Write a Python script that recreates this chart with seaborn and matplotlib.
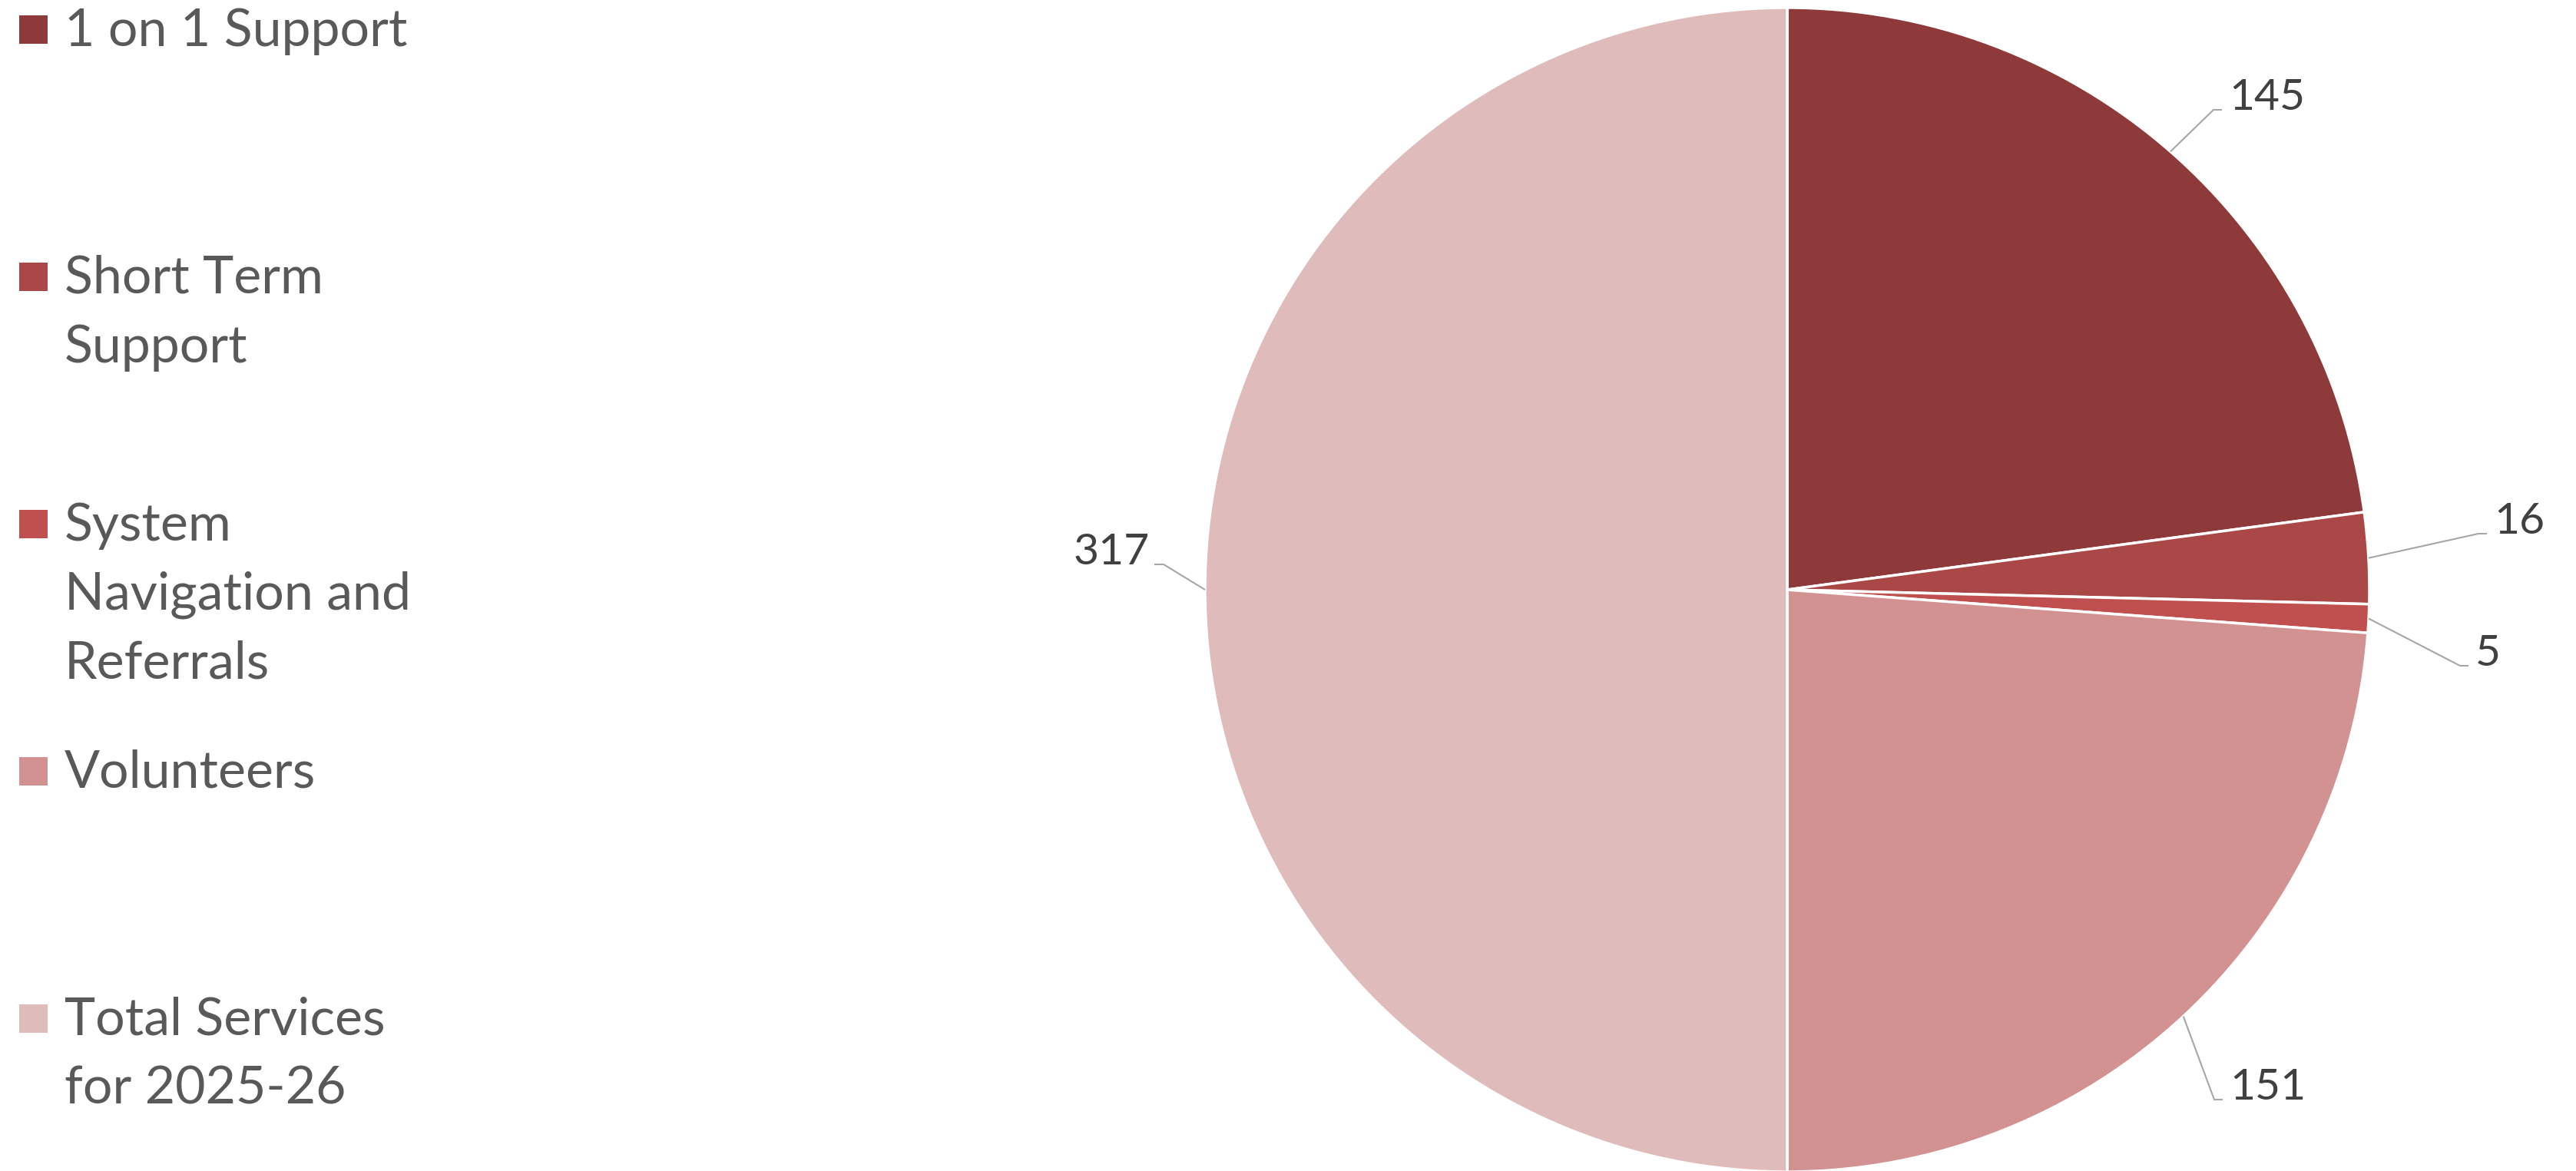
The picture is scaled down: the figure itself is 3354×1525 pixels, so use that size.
import numpy as np
import matplotlib
matplotlib.use("Agg")
import matplotlib.pyplot as plt
from matplotlib.patches import Rectangle
import seaborn as sns

# Service breakdown
categories = [
    "1 on 1 Support",
    "Short Term Support",
    "System Navigation and Referrals",
    "Volunteers",
    "Total Services for 2025-26",
]
legend_lines = [
    ["1 on 1 Support"],
    ["Short Term", "Support"],
    ["System", "Navigation and", "Referrals"],
    ["Volunteers"],
    ["Total Services", "for 2025-26"],
]
values = [145, 16, 5, 151, 317]
colors = ["#8F3A3A", "#AA4848", "#C0504F", "#D29292", "#E0BBBB"]

sns.set_theme(style="white")
plt.rcParams["font.family"] = ["Lato", "DejaVu Sans"]
palette = sns.color_palette(colors)

W, H = 3354, 1525
fig = plt.figure(figsize=(W / 100, H / 100), dpi=100)
ax = fig.add_axes([0, 0, 1, 1])

# pixel-like canvas coordinates, y measured from the top
def Y(y):
    return H - y

cx, cy, R = 2327, 768, 758
wedges, _ = ax.pie(
    values,
    colors=palette,
    startangle=90,
    counterclock=False,
    radius=R,
    center=(cx, Y(cy)),
    wedgeprops=dict(edgecolor="white", linewidth=2.5),
    frame=False,
)
ax.set_xlim(0, W)
ax.set_ylim(0, H)
ax.set_aspect("auto")
ax.axis("off")

# data labels with leader lines from each wedge's mid angle
label_pos = [  # (x, baseline y, side)
    (2902, 143, "left"),
    (3247, 695, "left"),
    (3223, 867, "left"),
    (2903, 1432, "left"),
    (1497, 735, "right"),
]
label_color = "#404040"
line_color = "#A6A6A6"
for w, v, (tx, ty, side) in zip(wedges, values, label_pos):
    mid = np.deg2rad((w.theta1 + w.theta2) / 2)
    ex, ey = cx + R * np.cos(mid), Y(cy) + R * np.sin(mid)
    if side == "left":
        end = tx - 9
        elbow = end - 11
    else:
        end = tx + 6
        elbow = end + 12
    ax.plot([ex, elbow, end], [ey, Y(ty), Y(ty)], color=line_color, lw=1.5,
            solid_capstyle="butt", zorder=1)
    ax.text(tx, Y(ty), str(v), ha=side, va="baseline", fontsize=41,
            color=label_color)

# legend column on the left
legend_color = "#595959"
centers = [38, 360, 682, 1004, 1326]
pitch = 90
sq = 37
for lines, col, c in zip(legend_lines, palette, centers):
    ax.add_patch(Rectangle((25, Y(c + sq / 2)), sq, sq, facecolor=col,
                           edgecolor="none"))
    base = c + 22
    for i, line in enumerate(lines):
        ax.text(84, Y(base + i * pitch), line, ha="left", va="baseline",
                fontsize=49, color=legend_color)

fig.savefig("out.png", dpi=100, facecolor="white")
